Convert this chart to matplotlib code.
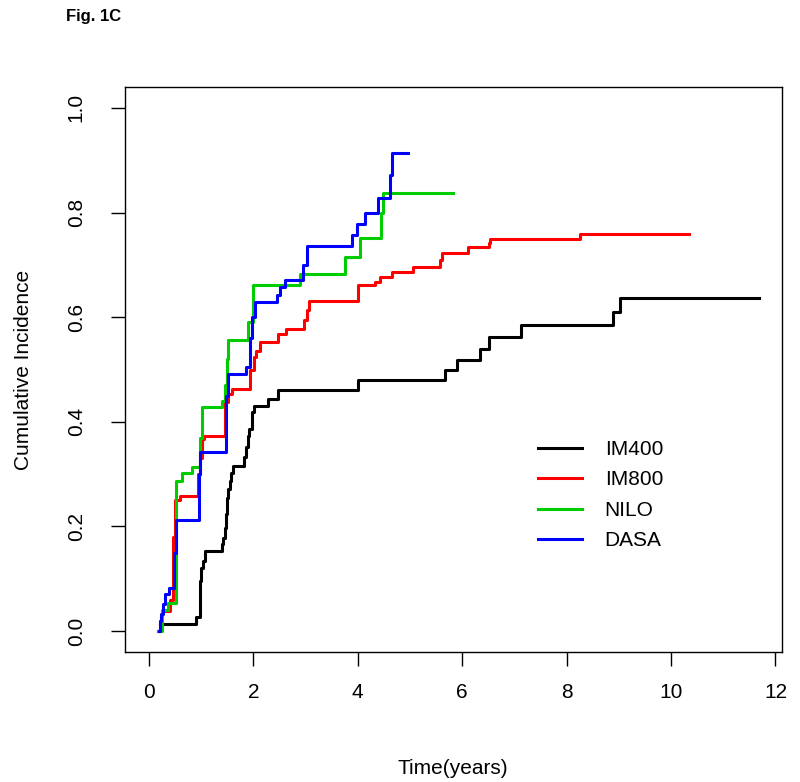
import matplotlib
matplotlib.use("Agg")
import matplotlib.pyplot as plt

plt.rcParams['font.family'] = ['Liberation Sans', 'DejaVu Sans']

# cumulative incidence step curves (time in years)
im400_t = [0.17, 0.23, 0.90, 0.98, 1.00, 1.03, 1.07, 1.40, 1.42, 1.45, 1.47, 1.49, 1.51, 1.55,
           1.57, 1.61, 1.82, 1.86, 1.89, 1.91, 1.97, 2.01, 2.28, 2.47, 4.00, 5.67, 5.90, 6.34,
           6.51, 7.12, 8.88, 9.02, 11.69]
im400_y = [0.0, 0.013, 0.026, 0.096, 0.12, 0.134, 0.153, 0.167, 0.178, 0.197, 0.224, 0.255,
           0.272, 0.287, 0.303, 0.316, 0.332, 0.351, 0.372, 0.387, 0.418, 0.431, 0.444, 0.461,
           0.48, 0.50, 0.519, 0.539, 0.562, 0.586, 0.609, 0.637, 0.637]

im800_t = [0.17, 0.21, 0.25, 0.40, 0.46, 0.50, 0.59, 0.94, 0.98, 1.01, 1.05, 1.45, 1.51, 1.59,
           1.93, 2.01, 2.05, 2.12, 2.47, 2.62, 2.97, 3.02, 3.06, 4.00, 4.33, 4.42, 4.65, 5.05,
           5.57, 5.61, 6.11, 6.51, 6.53, 8.25, 10.35]
im800_y = [0.0, 0.02, 0.038, 0.06, 0.18, 0.25, 0.259, 0.30, 0.33, 0.367, 0.373, 0.437, 0.453,
           0.463, 0.50, 0.524, 0.536, 0.552, 0.568, 0.578, 0.594, 0.613, 0.630, 0.661, 0.667,
           0.677, 0.686, 0.696, 0.710, 0.722, 0.734, 0.742, 0.75, 0.759, 0.759]

nilo_t = [0.17, 0.25, 0.36, 0.52, 0.63, 0.82, 0.98, 1.01, 1.40, 1.45, 1.49, 1.51, 1.89, 1.99,
          2.89, 3.75, 4.04, 4.44, 4.48, 5.82]
nilo_y = [0.0, 0.04, 0.053, 0.287, 0.303, 0.313, 0.37, 0.428, 0.44, 0.47, 0.52, 0.556, 0.591,
          0.661, 0.682, 0.715, 0.752, 0.80, 0.837, 0.837]

dasa_t = [0.19, 0.21, 0.23, 0.27, 0.31, 0.38, 0.48, 0.52, 0.96, 0.98, 1.47, 1.51, 1.86, 1.93,
          1.97, 2.03, 2.45, 2.51, 2.60, 2.95, 3.02, 3.89, 3.98, 4.13, 4.38, 4.61, 4.65, 4.96]
dasa_y = [0.0, 0.019, 0.032, 0.051, 0.071, 0.083, 0.15, 0.213, 0.30, 0.342, 0.45, 0.492, 0.504,
          0.56, 0.60, 0.629, 0.642, 0.658, 0.672, 0.70, 0.736, 0.757, 0.778, 0.80, 0.827, 0.872,
          0.914, 0.914]

groups = ['IM400', 'IM800', 'NILO', 'DASA']
colors = ['black', '#ff0000', '#00cd00', '#0000ff']
xticks = [0, 2, 4, 6, 8, 10, 12]
yticks = [0.0, 0.2, 0.4, 0.6, 0.8, 1.0]

fig = plt.figure(figsize=(8, 7.82), dpi=100)
ax = fig.add_axes([124.6 / 800, 1 - 652 / 782, (781.5 - 124.6) / 800, (652 - 87) / 782])

for t, y, name, c in zip([im400_t, im800_t, nilo_t, dasa_t],
                         [im400_y, im800_y, nilo_y, dasa_y], groups, colors):
    ax.step(t, y, where='post', color=c, lw=2.2, label=name)

ax.set_xlim(-0.466, 12.116)
ax.set_ylim(-0.04, 1.04)
ax.set_xticks(xticks)
ax.set_xticklabels([str(v) for v in xticks])
ax.set_yticks(yticks)
ax.set_yticklabels(['%.1f' % v for v in yticks])
ax.tick_params(direction='out', length=10, width=1, labelsize=15, pad=12, colors='black')
ax.tick_params(axis='y', labelrotation=90, pad=18)
for lab in ax.get_yticklabels():
    lab.set_va('center')
for s in ax.spines.values():
    s.set_linewidth(1)
    s.set_color('black')

ax.set_xlabel('Time(years)', fontsize=15)
ax.set_ylabel('Cumulative Incidence', fontsize=15)
ax.xaxis.set_label_coords(0.5, -0.19)
ax.yaxis.set_label_coords(-0.14, 0.5)

ax.legend(loc='upper left', bbox_to_anchor=((538 - 124.6) / 656.9, (652 - 440) / 565),
          frameon=False, fontsize=15, handlelength=2.1, handletextpad=1.1,
          labelspacing=0.55, borderpad=0, borderaxespad=0)

fig.text(66 / 800, 1 - 17 / 782, 'Fig. 1C', fontsize=12, fontweight='bold', va='center')

fig.savefig('out.png', dpi=100)
